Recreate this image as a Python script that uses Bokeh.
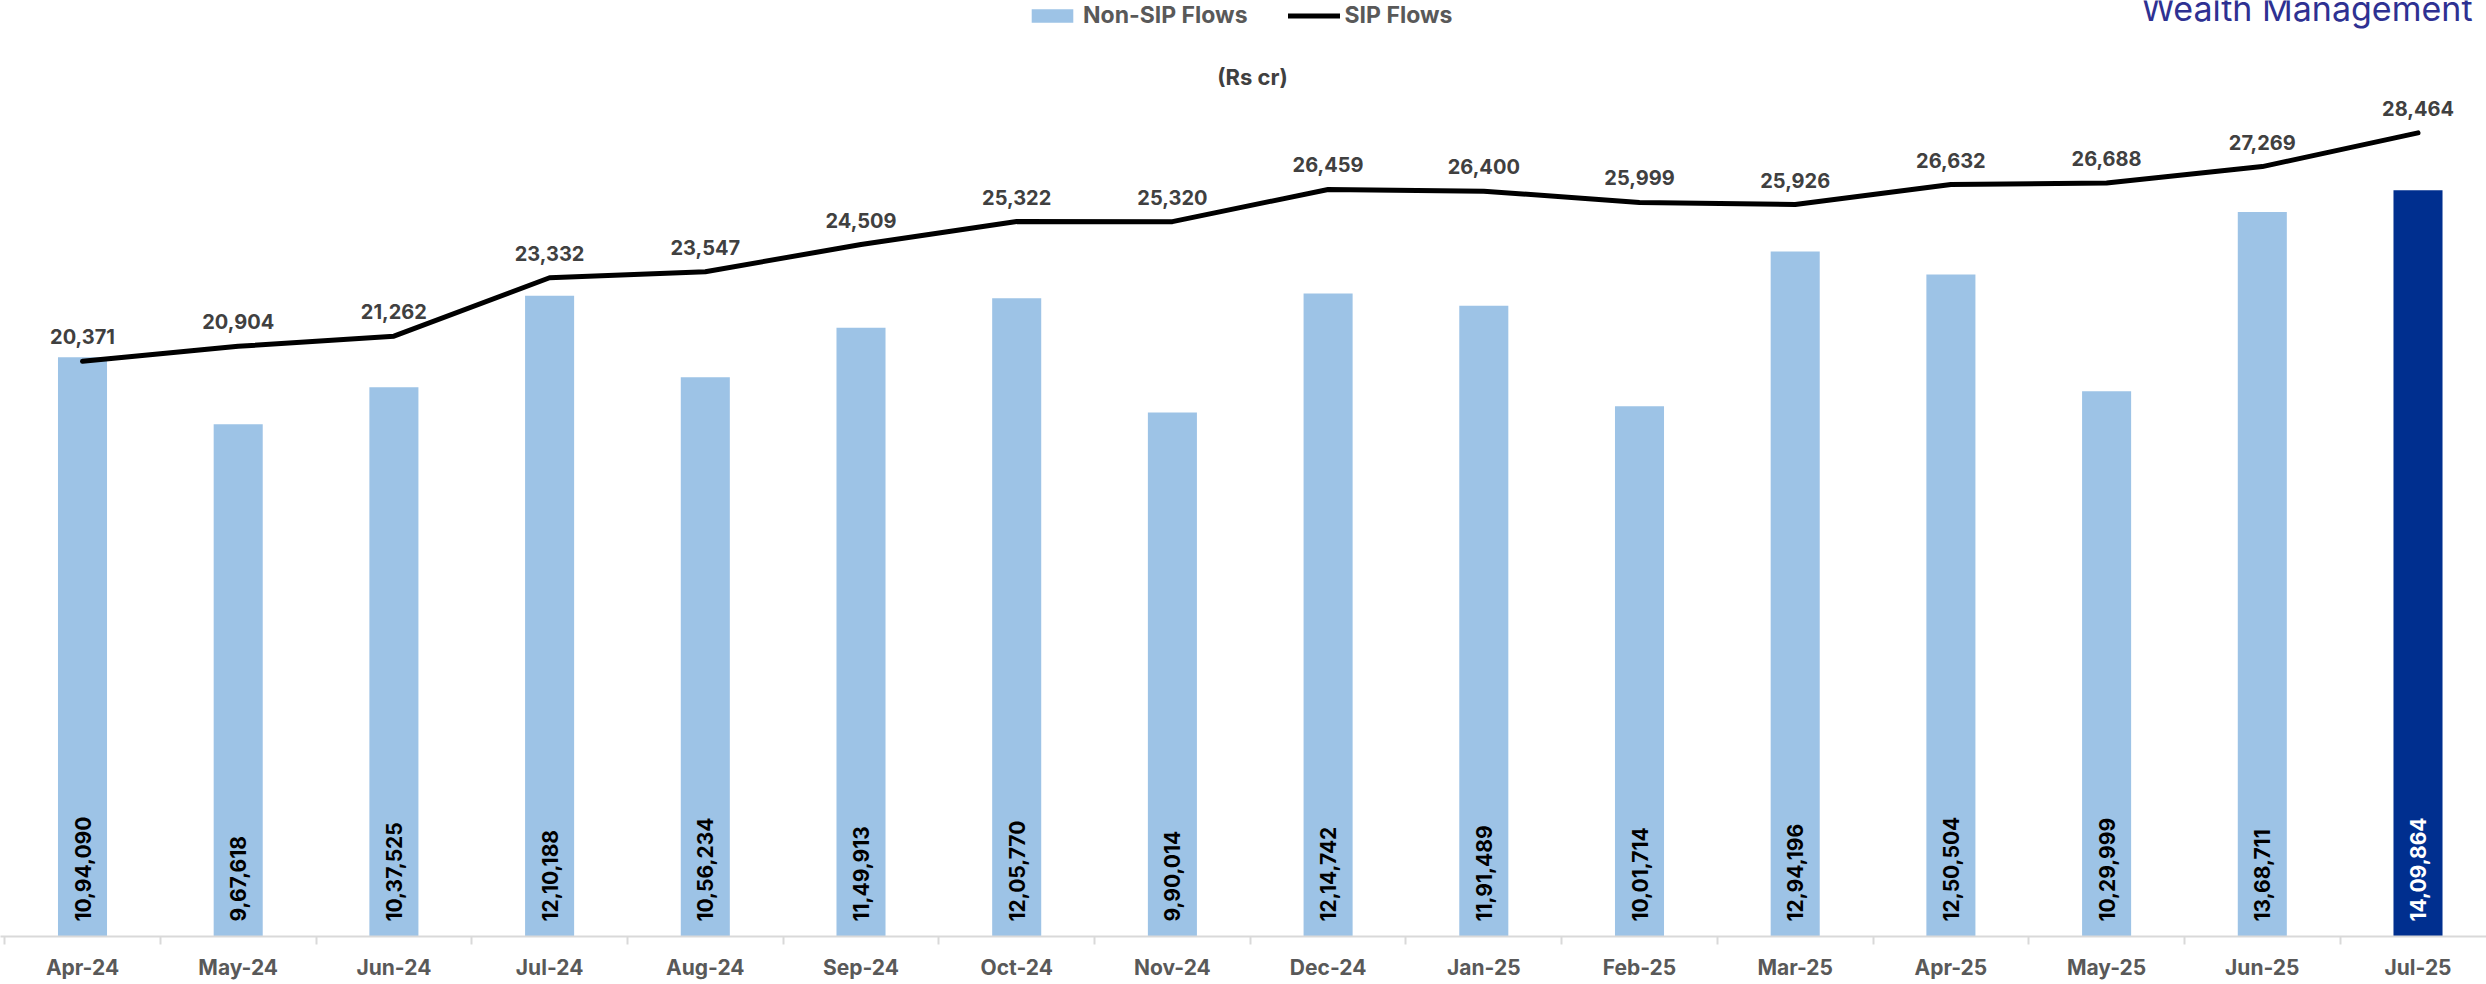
import math
from bokeh.plotting import figure
from bokeh.models import (ColumnDataSource, Range1d, FixedTicker, LabelSet, Label,
                          Legend, LegendItem)
from bokeh.core.properties import value
from bokeh.embed import file_html
from bokeh.resources import INLINE

# ---------------- data ----------------
months = ["Apr-24", "May-24", "Jun-24", "Jul-24", "Aug-24", "Sep-24", "Oct-24", "Nov-24",
          "Dec-24", "Jan-25", "Feb-25", "Mar-25", "Apr-25", "May-25", "Jun-25", "Jul-25"]
non_sip = [1094090, 967618, 1037525, 1210188, 1056234, 1149913, 1205770, 990014,
           1214742, 1191489, 1001714, 1294196, 1250504, 1029999, 1368711, 1409864]
sip = [20371, 20904, 21262, 23332, 23547, 24509, 25322, 25320,
       26459, 26400, 25999, 25926, 26632, 26688, 27269, 28464]
highlight_month = "Jul-25"

primary_max = 1600000
secondary_max = 30000


def fmt_in(n):
    s = str(int(n))
    if len(s) <= 3:
        return s
    last3, rest = s[-3:], s[:-3]
    groups = []
    while len(rest) > 2:
        groups.insert(0, rest[-2:])
        rest = rest[:-2]
    if rest:
        groups.insert(0, rest)
    return ",".join(groups + [last3])


# ---------------- layout ----------------
W, H = 2486, 984
BOTTOM = 48
FRAME_H = H - BOTTOM
PLOT_AREA_H = 847
CAT_PX = 155.7
FIRST_CENTER = 82
FONT = "Inter"

x_start = -FIRST_CENTER / CAT_PX
x_end = x_start + W / CAT_PX

light, dark = "#9DC3E6", "#002F8F"
idx = list(range(len(months)))
src = ColumnDataSource(dict(
    x=idx,
    month=months,
    non_sip=non_sip,
    sip=sip,
    bar_color=[dark if m == highlight_month else light for m in months],
    bar_text=[fmt_in(v) for v in non_sip],
    bar_text_color=["white" if m == highlight_month else "black" for m in months],
    sip_text=[fmt_in(v) for v in sip],
))

p = figure(width=W, height=H, output_backend="svg", toolbar_location=None,
           x_range=Range1d(x_start, x_end),
           y_range=Range1d(0, primary_max * FRAME_H / PLOT_AREA_H),
           y_axis_location=None, tools="")
p.extra_y_ranges = {"sip": Range1d(0, secondary_max * FRAME_H / PLOT_AREA_H)}
p.min_border_left = 0
p.min_border_right = 0
p.min_border_top = 0
p.min_border_bottom = BOTTOM
p.outline_line_color = None
p.xgrid.visible = False
p.ygrid.visible = False
p.background_fill_color = "white"
p.border_fill_color = "white"

bars = p.vbar(x="x", top="non_sip", width=0.315, source=src,
              fill_color="bar_color", line_color=None)
line = p.line(x="x", y="sip", source=src, y_range_name="sip",
              line_color="black", line_width=5, line_join="round", line_cap="round")

# x axis
ax = p.xaxis[0]
ax.axis_label = None
ax.ticker = FixedTicker(ticks=idx, minor_ticks=[i - 0.5 for i in range(len(months) + 1)])
ax.major_label_overrides = {i: m for i, m in enumerate(months)}
ax.major_tick_out = 0
ax.major_tick_in = 0
ax.minor_tick_out = 8
ax.minor_tick_in = 0
ax.minor_tick_line_color = "#D9D9D9"
ax.minor_tick_line_width = 2
ax.axis_line_color = "#D9D9D9"
ax.axis_line_width = 2
ax.major_label_standoff = 10
ax.major_label_text_line_height = 1.0
ax.major_label_text_font = FONT
ax.major_label_text_font_style = "bold"
ax.major_label_text_font_size = "21px"
ax.major_label_text_color = "#595959"

# bar value labels (vertical)
p.add_layout(LabelSet(x="x", y=0, text="bar_text", source=src, angle=math.pi / 2,
                      text_align="left", text_baseline="middle", y_offset=15,
                      text_font=value(FONT), text_font_style="bold", text_font_size="21px",
                      text_color="bar_text_color"))

# SIP value labels
p.add_layout(LabelSet(x="x", y="sip", text="sip_text", source=src, y_range_name="sip",
                      text_align="center", text_baseline="alphabetic", y_offset=17,
                      text_font=value(FONT), text_font_style="bold", text_font_size="20px",
                      text_color="#404040"))

# legend
legend = Legend(items=[LegendItem(label="Non-SIP Flows", renderers=[bars], index=0),
                       LegendItem(label="SIP Flows", renderers=[line])],
                orientation="horizontal", location=(1026, FRAME_H - 29),
                border_line_color=None, background_fill_alpha=0,
                padding=0, margin=0, spacing=40, label_standoff=5,
                glyph_width=52, glyph_height=17,
                label_text_font=FONT, label_text_font_style="bold",
                label_text_font_size="23px", label_text_color="#595959")
p.add_layout(legend, "center")

p.add_layout(Label(x=1252, y=FRAME_H - 76, x_units="screen", y_units="screen",
                   text="(Rs cr)", text_align="center", text_baseline="alphabetic",
                   text_font=FONT, text_font_style="bold", text_font_size="22px",
                   text_color="#404040"))

p.add_layout(Label(x=2472, y=FRAME_H - 8, x_units="screen", y_units="screen",
                   text="Wealth Management", text_align="right", text_baseline="alphabetic",
                   text_font=FONT, text_font_size="34px", text_color="#2E3192"))

open("out.html", "w").write(file_html(p, INLINE))
